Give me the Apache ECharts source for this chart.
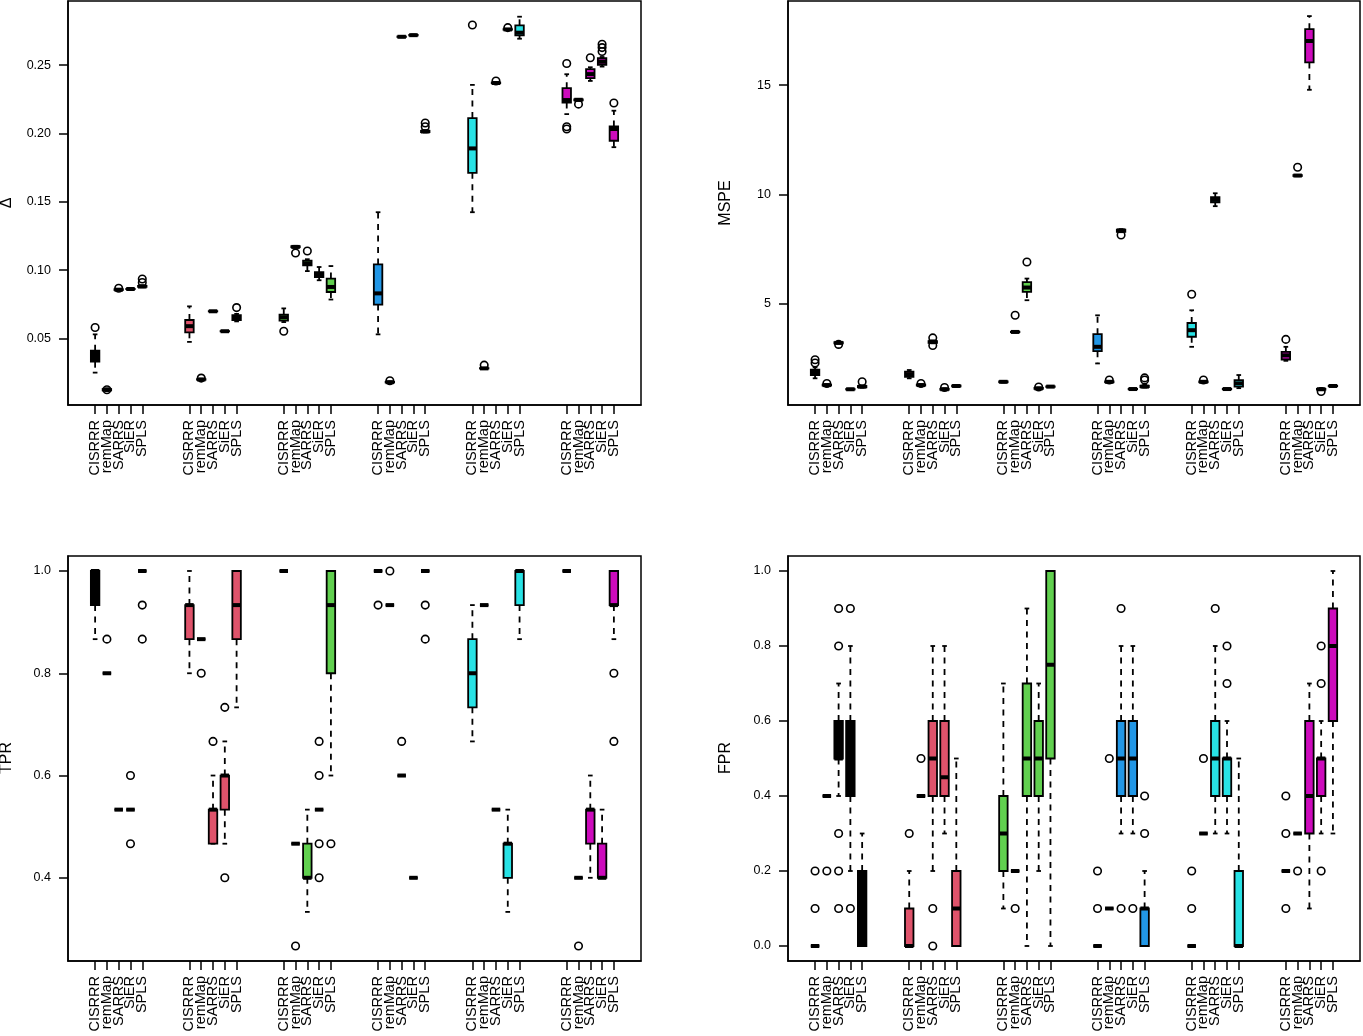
<!DOCTYPE html>
<html>
<head>
<meta charset="utf-8">
<script src="https://cdn.jsdelivr.net/npm/echarts@6/dist/echarts.min.js"></script>
<style>
html,body{margin:0;padding:0;background:#fff;}
#chart{width:1363px;height:1036px;}
</style>
</head>
<body>
<div id="chart"></div>
<script>
// ---------- data ----------
const methods = ['CISRRR', 'remMap', 'SARRS', 'SiER', 'SPLS'];
const groupColors = ['#000000', '#DF536B', '#61D04F', '#2297E6', '#28E2E5', '#CD0BBC'];

// each row: [lowerWhisker, Q1, median, Q3, upperWhisker]; 6 groups x 5 methods
const deltaStats = [
  [0.025, 0.033, 0.036, 0.041, 0.053],
  [0.0115, 0.012, 0.0125, 0.013, 0.0135],
  [0.0852, 0.0855, 0.0857, 0.086, 0.0862],
  [0.086, 0.0861, 0.0862, 0.0863, 0.0864],
  [0.0875, 0.0878, 0.088, 0.0885, 0.089],
  [0.0475, 0.0545, 0.059, 0.0635, 0.0735],
  [0.0195, 0.0198, 0.02, 0.0202, 0.0205],
  [0.0697, 0.0698, 0.0699, 0.07, 0.0701],
  [0.0551, 0.0552, 0.0553, 0.0554, 0.0555],
  [0.0625, 0.0634, 0.065, 0.067, 0.068],
  [0.062, 0.063, 0.0655, 0.0675, 0.072],
  [0.1165, 0.1168, 0.117, 0.1175, 0.1178],
  [0.0993, 0.1035, 0.105, 0.107, 0.108],
  [0.0926, 0.095, 0.097, 0.0986, 0.1023],
  [0.0785, 0.084, 0.0877, 0.0938, 0.103],
  [0.053, 0.0748, 0.083, 0.1042, 0.1424],
  [0.0175, 0.0178, 0.018, 0.0182, 0.0185],
  [0.2705, 0.2707, 0.2708, 0.271, 0.2712],
  [0.2716, 0.2718, 0.272, 0.2722, 0.2724],
  [0.2008, 0.201, 0.2015, 0.202, 0.2025],
  [0.1424, 0.1712, 0.1891, 0.2113, 0.2356],
  [0.0278, 0.028, 0.0281, 0.0283, 0.0285],
  [0.2365, 0.2368, 0.237, 0.2373, 0.2375],
  [0.2757, 0.276, 0.2762, 0.2764, 0.2766],
  [0.2694, 0.2719, 0.2738, 0.2792, 0.2855],
  [0.2142, 0.2227, 0.2245, 0.2332, 0.2434],
  [0.224, 0.2243, 0.2247, 0.225, 0.2253],
  [0.2385, 0.2405, 0.2435, 0.2471, 0.2485],
  [0.249, 0.2502, 0.2525, 0.2551, 0.256],
  [0.19, 0.1947, 0.2033, 0.2052, 0.2167]
];
const deltaOutliers = [
  [0.058], [0.0125], [0.0868], [], [0.091, 0.0935],
  [], [0.021], [], [], [0.0726],
  [0.0553], [0.1125], [0.114], [], [],
  [], [0.019], [], [], [0.205, 0.2077],
  [0.2794], [0.0305], [0.2385], [0.2775], [],
  [0.2512, 0.2033, 0.205], [0.2215], [0.2555], [0.26, 0.2629, 0.2653], [0.2223]
];

const mspeStats = [
  [1.6, 1.75, 1.85, 2.0, 2.1],
  [1.25, 1.27, 1.29, 1.31, 1.33],
  [3.19, 3.2, 3.22, 3.25, 3.27],
  [1.08, 1.09, 1.1, 1.11, 1.12],
  [1.17, 1.19, 1.22, 1.25, 1.27],
  [1.6, 1.67, 1.78, 1.9, 1.98],
  [1.25, 1.27, 1.29, 1.31, 1.33],
  [3.2, 3.22, 3.27, 3.3, 3.33],
  [1.07, 1.08, 1.1, 1.12, 1.14],
  [1.22, 1.23, 1.25, 1.27, 1.28],
  [1.41, 1.42, 1.44, 1.46, 1.47],
  [3.7, 3.71, 3.72, 3.73, 3.74],
  [5.17, 5.55, 5.75, 6.0, 6.16],
  [1.1, 1.12, 1.14, 1.16, 1.18],
  [1.2, 1.21, 1.22, 1.23, 1.24],
  [2.28, 2.84, 3.04, 3.62, 4.48],
  [1.4, 1.42, 1.44, 1.46, 1.48],
  [8.28, 8.3, 8.36, 8.4, 8.42],
  [1.09, 1.1, 1.11, 1.12, 1.13],
  [1.18, 1.2, 1.22, 1.26, 1.3],
  [3.04, 3.5, 3.8, 4.13, 4.71],
  [1.4, 1.42, 1.44, 1.46, 1.48],
  [9.47, 9.65, 9.76, 9.88, 10.06],
  [1.09, 1.1, 1.11, 1.12, 1.13],
  [1.15, 1.22, 1.37, 1.52, 1.75],
  [2.4, 2.46, 2.65, 2.81, 3.04],
  [10.84, 10.85, 10.87, 10.89, 10.9],
  [14.79, 16.04, 17.02, 17.56, 18.16],
  [1.06, 1.08, 1.1, 1.12, 1.14],
  [1.23, 1.24, 1.25, 1.26, 1.27]
];
const mspeOutliers = [
  [2.3, 2.45], [1.36], [3.15], [], [1.44],
  [], [1.36], [3.45, 3.1], [1.18], [],
  [], [4.48], [6.92], [1.2], [],
  [], [1.52], [8.15], [], [1.52, 1.62],
  [5.44], [1.52], [], [], [],
  [3.38], [11.25], [], [1.0], []
];

const tprStats = [
  [0.8667, 0.9333, 1, 1, 1],
  [0.8, 0.8, 0.8, 0.8, 0.8],
  [0.5333, 0.5333, 0.5333, 0.5333, 0.5333],
  [0.5333, 0.5333, 0.5333, 0.5333, 0.5333],
  [1, 1, 1, 1, 1],
  [0.8, 0.8667, 0.9333, 0.9333, 1],
  [0.8667, 0.8667, 0.8667, 0.8667, 0.8667],
  [0.4667, 0.4667, 0.5333, 0.5333, 0.6],
  [0.4667, 0.5333, 0.6, 0.6, 0.6667],
  [0.7333, 0.8667, 0.9333, 1, 1],
  [1, 1, 1, 1, 1],
  [0.4667, 0.4667, 0.4667, 0.4667, 0.4667],
  [0.3333, 0.4, 0.4, 0.4667, 0.5333],
  [0.5333, 0.5333, 0.5333, 0.5333, 0.5333],
  [0.6, 0.8, 0.9333, 1, 1],
  [1, 1, 1, 1, 1],
  [0.9333, 0.9333, 0.9333, 0.9333, 0.9333],
  [0.6, 0.6, 0.6, 0.6, 0.6],
  [0.4, 0.4, 0.4, 0.4, 0.4],
  [1, 1, 1, 1, 1],
  [0.6667, 0.7333, 0.8, 0.8667, 0.9333],
  [0.9333, 0.9333, 0.9333, 0.9333, 0.9333],
  [0.5333, 0.5333, 0.5333, 0.5333, 0.5333],
  [0.3333, 0.4, 0.4667, 0.4667, 0.5333],
  [0.8667, 0.9333, 1, 1, 1],
  [1, 1, 1, 1, 1],
  [0.4, 0.4, 0.4, 0.4, 0.4],
  [0.4, 0.4667, 0.5333, 0.5333, 0.6],
  [0.4, 0.4, 0.4, 0.4667, 0.5333],
  [0.8667, 0.9333, 0.9333, 1, 1]
];
const tprOutliers = [
  [], [0.8667], [], [0.6, 0.4667], [0.9333, 0.8667],
  [], [0.8], [0.6667], [0.7333, 0.4], [],
  [], [0.2667], [], [0.6667, 0.6, 0.4667, 0.4], [0.4667],
  [0.9333], [1], [0.6667], [], [0.9333, 0.8667],
  [], [], [], [], [],
  [], [0.2667], [], [], [0.8, 0.6667]
];

const fprStats = [
  [0, 0, 0, 0, 0],
  [0.4, 0.4, 0.4, 0.4, 0.4],
  [0.4, 0.5, 0.5, 0.6, 0.7],
  [0.2, 0.4, 0.5, 0.6, 0.8],
  [0, 0, 0.1, 0.2, 0.3],
  [0, 0, 0, 0.1, 0.2],
  [0.4, 0.4, 0.4, 0.4, 0.4],
  [0.2, 0.4, 0.5, 0.6, 0.8],
  [0.3, 0.4, 0.45, 0.6, 0.8],
  [0, 0, 0.1, 0.2, 0.5],
  [0.1, 0.2, 0.3, 0.4, 0.7],
  [0.2, 0.2, 0.2, 0.2, 0.2],
  [0, 0.4, 0.5, 0.7, 0.9],
  [0.2, 0.4, 0.5, 0.6, 0.7],
  [0, 0.5, 0.75, 1, 1],
  [0, 0, 0, 0, 0],
  [0.1, 0.1, 0.1, 0.1, 0.1],
  [0.3, 0.4, 0.5, 0.6, 0.8],
  [0.3, 0.4, 0.5, 0.6, 0.8],
  [0, 0, 0.1, 0.1, 0.2],
  [0, 0, 0, 0, 0],
  [0.3, 0.3, 0.3, 0.3, 0.3],
  [0.3, 0.4, 0.5, 0.6, 0.8],
  [0.3, 0.4, 0.5, 0.5, 0.6],
  [0, 0, 0, 0.2, 0.5],
  [0.2, 0.2, 0.2, 0.2, 0.2],
  [0.3, 0.3, 0.3, 0.3, 0.3],
  [0.1, 0.3, 0.4, 0.6, 0.7],
  [0.3, 0.4, 0.5, 0.5, 0.6],
  [0.3, 0.6, 0.8, 0.9, 1]
];
const fprOutliers = [
  [0.1, 0.2], [0.2], [0.9, 0.8, 0.3, 0.2, 0.1], [0.9, 0.1], [],
  [0.3], [0.5], [0.1, 0], [], [],
  [], [0.1], [], [], [],
  [0.1, 0.2], [0.5], [0.9, 0.1], [0.1], [0.3, 0.4],
  [0.1, 0.2], [0.5], [0.9], [0.7, 0.8], [],
  [0.1, 0.3, 0.4], [0.2], [], [0.2, 0.7, 0.8], []
];

const yTicksDelta = [0.05, 0.10, 0.15, 0.20, 0.25];
const yTicksMspe = [5, 10, 15];
const yTicksTpr = [0.4, 0.6, 0.8, 1.0];
const yTicksFpr = [0, 0.2, 0.4, 0.6, 0.8, 1.0];

// ---------- layout ----------
const FONT = 'Liberation Sans, Arial, Helvetica, sans-serif';
const posOf = (g, m) => g * 8 + m + 1;
const xTickValues = [];
for (let g = 0; g < 6; g++) for (let m = 0; m < 5; m++) xTickValues.push(posOf(g, m));
// labels next to the axis ends go on a second axis so none is dropped
const xLabelsAux = [xTickValues[1], xTickValues[xTickValues.length - 2]];
const xLabelsMain = xTickValues.filter(v => xLabelsAux.indexOf(v) < 0);

const panels = [
  { stats: deltaStats, outs: deltaOutliers, ticks: yTicksDelta, min: 0.0013, max: 0.297, dec: 2, title: 'Δ',
    grid: { left: 68, top: 1, width: 573, height: 404 }, tx: 7, ty: 203 },
  { stats: mspeStats, outs: mspeOutliers, ticks: yTicksMspe, min: 0.38, max: 18.85, dec: 0, title: 'MSPE',
    grid: { left: 788, top: 1, width: 572, height: 404 }, tx: 726, ty: 203 },
  { stats: tprStats, outs: tprOutliers, ticks: yTicksTpr, min: 0.2373, max: 1.0293, dec: 1, title: 'TPR',
    grid: { left: 68, top: 556, width: 573, height: 405 }, tx: 7, ty: 758 },
  { stats: fprStats, outs: fprOutliers, ticks: yTicksFpr, min: -0.04, max: 1.04, dec: 1, title: 'FPR',
    grid: { left: 788, top: 556, width: 572, height: 405 }, tx: 726, ty: 758 }
];

function renderBox(params, api) {
  const x = api.value(0);
  const lo = api.value(1), q1 = api.value(2), med = api.value(3), q3 = api.value(4), hi = api.value(5);
  const g = api.value(6);
  const unit = api.size([1, 0])[0];
  const half = unit * 0.36;
  const sHalf = half * 0.55;
  const cx = api.coord([x, med])[0];
  const yLo = api.coord([x, lo])[1];
  const yQ1 = api.coord([x, q1])[1];
  const yMed = api.coord([x, med])[1];
  const yQ3 = api.coord([x, q3])[1];
  const yHi = api.coord([x, hi])[1];
  const lw = 1.8;
  const children = [];
  if (yHi < yQ3) children.push({ type: 'line', shape: { x1: cx, y1: yQ3, x2: cx, y2: yHi },
    style: { stroke: '#000', lineWidth: lw, lineDash: [6, 5.5] } });
  if (yLo > yQ1) children.push({ type: 'line', shape: { x1: cx, y1: yQ1, x2: cx, y2: yLo },
    style: { stroke: '#000', lineWidth: lw, lineDash: [6, 5.5] } });
  children.push({ type: 'line', shape: { x1: cx - sHalf, y1: yHi, x2: cx + sHalf, y2: yHi },
    style: { stroke: '#000', lineWidth: lw } });
  children.push({ type: 'line', shape: { x1: cx - sHalf, y1: yLo, x2: cx + sHalf, y2: yLo },
    style: { stroke: '#000', lineWidth: lw } });
  children.push({ type: 'rect', shape: { x: cx - half, y: yQ3, width: half * 2, height: yQ1 - yQ3 },
    style: { fill: groupColors[g], stroke: '#000', lineWidth: lw } });
  children.push({ type: 'line', shape: { x1: cx - half, y1: yMed, x2: cx + half, y2: yMed },
    style: { stroke: '#000', lineWidth: 4 } });
  return { type: 'group', children };
}

const option = {
  animation: false,
  backgroundColor: '#ffffff',
  grid: [], xAxis: [], yAxis: [], series: [], graphic: []
};

const xLabelBase = {
  show: true, rotate: 90, margin: 15, color: '#000', fontFamily: FONT, fontSize: 14.5,
  showMinLabel: true, showMaxLabel: true, hideOverlap: false,
  formatter: v => methods[(Math.round(v) - 1) % 8]
};

panels.forEach((p, i) => {
  option.grid.push(Object.assign({ show: true, borderColor: '#000', borderWidth: 1.5, backgroundColor: 'transparent' }, p.grid));
  option.xAxis.push({
    type: 'value', gridIndex: i, position: 'bottom', min: -1.3, max: 47.3,
    splitLine: { show: false },
    axisLine: { show: true, onZero: false, lineStyle: { color: '#000', width: 1.5 } },
    axisTick: { show: true, length: 9, lineStyle: { color: '#000', width: 1.5 }, customValues: xTickValues },
    axisLabel: Object.assign({}, xLabelBase, { customValues: xLabelsMain })
  });
  option.xAxis.push({
    type: 'value', gridIndex: i, position: 'bottom', offset: 0, min: -1.3, max: 47.3,
    splitLine: { show: false },
    axisLine: { show: false, onZero: false },
    axisTick: { show: false },
    axisLabel: Object.assign({}, xLabelBase, { customValues: xLabelsAux })
  });
  option.yAxis.push({
    type: 'value', gridIndex: i, min: p.min, max: p.max,
    splitLine: { show: false },
    axisLine: { show: true, onZero: false, lineStyle: { color: '#000', width: 1.5 } },
    axisTick: { show: true, length: 9, lineStyle: { color: '#000', width: 1.5 }, customValues: p.ticks },
    axisLabel: {
      show: true, margin: 17, color: '#000', fontFamily: FONT, fontSize: 12.5,
      customValues: p.ticks, showMinLabel: true, showMaxLabel: true,
      formatter: v => Number(v).toFixed(p.dec)
    }
  });
  const boxData = p.stats.map((s, k) => {
    const g = Math.floor(k / 5), m = k % 5;
    return [posOf(g, m), s[0], s[1], s[2], s[3], s[4], g];
  });
  const outData = [];
  p.outs.forEach((arr, k) => {
    const g = Math.floor(k / 5), m = k % 5;
    arr.forEach(v => outData.push([posOf(g, m), v]));
  });
  option.series.push({
    type: 'custom', xAxisIndex: 2 * i, yAxisIndex: i,
    renderItem: renderBox,
    encode: { x: 0, y: [1, 2, 3, 4, 5] },
    data: boxData, clip: false, z: 2
  });
  option.series.push({
    type: 'scatter', xAxisIndex: 2 * i, yAxisIndex: i,
    data: outData, symbol: 'circle', symbolSize: 7.5,
    itemStyle: { color: 'rgba(255,255,255,0)', borderColor: '#000', borderWidth: 1.6, opacity: 1 },
    z: 3, silent: true
  });
  option.graphic.push({
    type: 'text', x: p.tx, y: p.ty, rotation: Math.PI / 2,
    style: { text: p.title, fontFamily: FONT, fontSize: 16, fill: '#000', align: 'center', verticalAlign: 'middle' }
  });
});

const chart = echarts.init(document.getElementById('chart'), null, { renderer: 'canvas' });
chart.setOption(option);
</script>
</body>
</html>
